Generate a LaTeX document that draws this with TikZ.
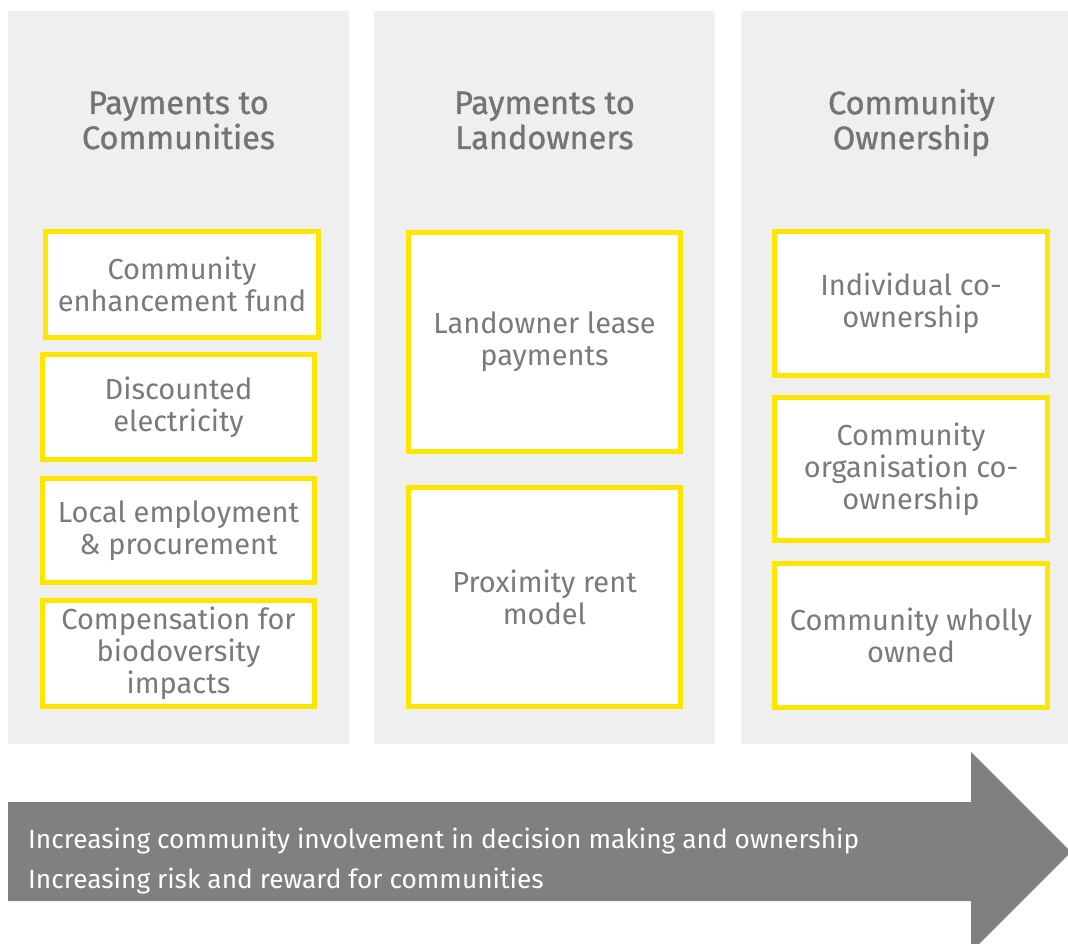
\documentclass[tikz,border=0pt]{standalone}
\usepackage{fontspec}
\setmainfont{Fira Sans}
\newfontfamily\hdrfont{Fira Sans}[FakeBold=1]
\definecolor{colbg}{HTML}{EFEFEF}
\definecolor{eyyellow}{HTML}{FFE600}
\definecolor{txtgrey}{HTML}{7A7A7A}
\definecolor{hdrgrey}{HTML}{747474}
\definecolor{arrowgrey}{HTML}{808080}
\tikzset{
  column/.style={fill=colbg, draw=none},
  itembox/.style={draw=eyyellow, fill=white, line width=5pt, inner sep=0pt,
    align=center, text=txtgrey, font=\fontsize{29}{32}\selectfont},
  header/.style={align=center, text=hdrgrey, inner sep=0pt,
    font=\hdrfont\fontsize{32.5}{35}\selectfont},
  arrowtext/.style={anchor=base west, text=white, inner sep=0pt,
    font=\fontsize{26.3}{30}\selectfont},
}
\begin{document}
\begin{tikzpicture}[x=1pt,y=-1pt]
\useasboundingbox (0,0) rectangle (1068,944);
\begin{scope}
\clip (0,0) rectangle (1068,944);
% columns
\fill[column] (8,11) rectangle (349,744);
\fill[column] (374,11) rectangle (715,744);
\fill[column] (741,11) rectangle (1082,744);
% arrow
\fill[arrowgrey] (8,802) -- (971,802) -- (971,752) -- (1071,852) -- (971,952) -- (971,901) -- (8,901) -- cycle;
\end{scope}
% headers
\node[header] (h1) at (178.5,120.5) {Payments to\\Communities};
\node[header] (h2) at (544.5,120.5) {Payments to\\Landowners};
\node[header] (h3) at (911.5,122.5) {Community\\Ownership};
% column 1 boxes
\node[itembox, minimum width=273pt, minimum height=106pt] (a1) at (182,284.5) {Community\\enhancement fund};
\node[itembox, minimum width=272pt, minimum height=105pt] (a2) at (178.5,407) {Discounted\\electricity};
\node[itembox, minimum width=272pt, minimum height=104pt] (a3) at (178.5,530.5) {Local employment\\\& procurement};
\node[itembox, minimum width=272pt, minimum height=106pt] (a4) at (178.5,653.5) {Compensation for\\biodoversity\\impacts};
% column 2 boxes
\node[itembox, minimum width=272pt, minimum height=219pt] (b1) at (544.5,342) {Landowner lease\\payments};
\node[itembox, minimum width=272pt, minimum height=219pt] (b2) at (544.5,597) {Proximity rent\\model};
% column 3 boxes
\node[itembox, minimum width=273pt, minimum height=144pt] (c1) at (911,303.5) {Individual co-\\ownership};
\node[itembox, minimum width=273pt, minimum height=143pt] (c2) at (911,469) {Community\\organisation co-\\ownership};
\node[itembox, minimum width=273pt, minimum height=144pt] (c3) at (911,635.5) {Community wholly\\owned};
% arrow texts
\node[arrowtext] (t1) at (28,848) {Increasing community involvement in decision making and ownership};
\node[arrowtext] (t2) at (28,888) {Increasing risk and reward for communities};
\end{tikzpicture}
\end{document}
